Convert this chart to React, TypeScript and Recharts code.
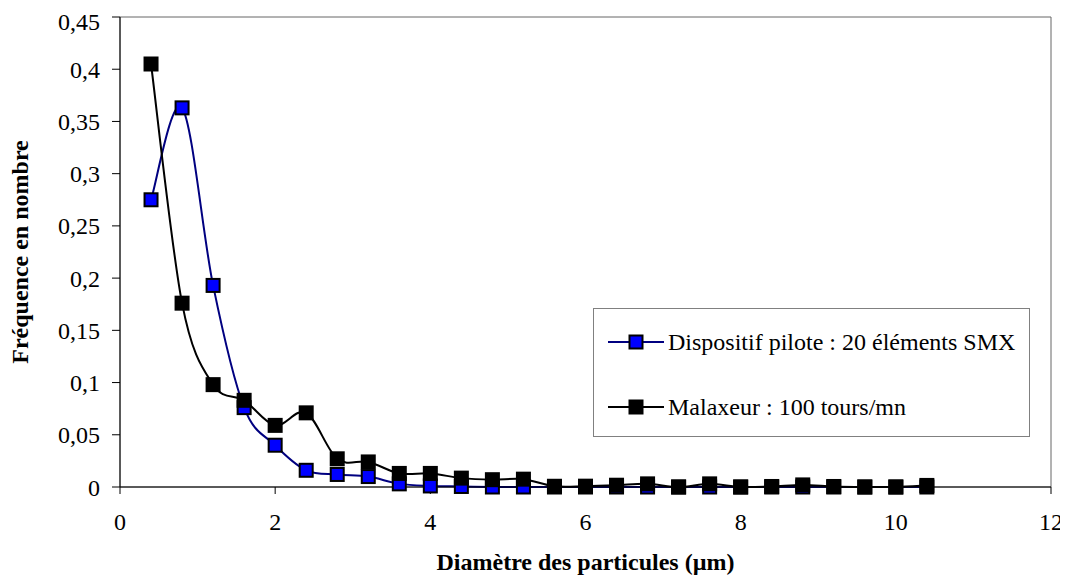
import React from 'react';
import { LineChart, Line, XAxis, YAxis, ReferenceArea, Legend, Label } from 'recharts';

const diameters = [0.4, 0.8, 1.2, 1.6, 2.0, 2.4, 2.8, 3.2, 3.6, 4.0, 4.4, 4.8, 5.2, 5.6, 6.0, 6.4, 6.8, 7.2, 7.6, 8.0, 8.4, 8.8, 9.2, 9.6, 10.0, 10.4];
const pilotSMX = [0.275, 0.363, 0.193, 0.076, 0.040, 0.016, 0.012, 0.010, 0.003, 0.001, 0.0005, 0, 0, 0, 0, 0, 0, 0, 0, 0, 0, 0, 0, 0, 0, 0];
const malaxeur = [0.405, 0.176, 0.098, 0.083, 0.059, 0.071, 0.027, 0.024, 0.013, 0.013, 0.0085, 0.007, 0.0075, 0.0007, 0.0008, 0.0017, 0.003, 0, 0.003, 0, 0.0005, 0.002, 0.0005, 0, 0, 0.0015];
const xTicks = [0, 2, 4, 6, 8, 10, 12];
const yTicks = [0, 0.05, 0.1, 0.15, 0.2, 0.25, 0.3, 0.35, 0.4, 0.45];
const seriesNames = ['Dispositif pilote : 20 éléments SMX', 'Malaxeur : 100 tours/mn'];
const xTitle = 'Diamètre des particules (µm)';
const yTitle = 'Fréquence en nombre';

const FONT = '"Liberation Serif", "Times New Roman", serif';

const data = diameters.map((d, i) => ({ d, smx: pilotSMX[i], mal: malaxeur[i] }));

// Excel-like smoothed line (Catmull-Rom as cubic Bezier)
const catmullRom: any = (context: any) => {
  let pts: [number, number][] = [];
  return {
    areaStart() {},
    areaEnd() {},
    lineStart() {
      pts = [];
    },
    point(x: number, y: number) {
      pts.push([+x, +y]);
    },
    lineEnd() {
      if (!pts.length) return;
      context.moveTo(pts[0][0], pts[0][1]);
      for (let i = 0; i < pts.length - 1; i++) {
        const p0 = pts[i - 1] || pts[i];
        const p1 = pts[i];
        const p2 = pts[i + 1];
        const p3 = pts[i + 2] || p2;
        const c1x = p1[0] + (p2[0] - p0[0]) / 6;
        const c1y = p1[1] + (p2[1] - p0[1]) / 6;
        const c2x = p2[0] - (p3[0] - p1[0]) / 6;
        const c2y = p2[1] - (p3[1] - p1[1]) / 6;
        context.bezierCurveTo(c1x, c1y, c2x, c2y, p2[0], p2[1]);
      }
    },
  };
};

const squareDot = (fill: string) => (p: any) => {
  const { cx, cy, index } = p;
  if (cx == null || cy == null) return <g key={`n-${index}`} />;
  return (
    <rect
      key={`s-${fill}-${index}`}
      x={cx - 6.5}
      y={cy - 6.5}
      width={13}
      height={13}
      fill={fill}
      stroke="#000"
      strokeWidth={2}
    />
  );
};

const legendStyles = [
  { line: '#000080', fill: '#0000FF' },
  { line: '#000000', fill: '#000000' },
];

const renderLegend = () => (
  <div
    style={{
      width: 437,
      height: 129,
      border: '1px solid #808080',
      boxSizing: 'border-box',
      background: '#fff',
      fontFamily: FONT,
      fontSize: 24,
      color: '#000',
      position: 'relative',
    }}
  >
    {seriesNames.map((name, i) => (
      <div
        key={name}
        style={{
          position: 'absolute',
          left: 14,
          top: (i === 0 ? 33 : 98) - 15,
          height: 30,
          display: 'flex',
          alignItems: 'center',
          whiteSpace: 'nowrap',
        }}
      >
        <svg width={56} height={20} style={{ display: 'block' }}>
          <line x1={0} x2={56} y1={10} y2={10} stroke={legendStyles[i].line} strokeWidth={2} />
          <rect x={21.5} y={3.5} width={13} height={13} fill={legendStyles[i].fill} stroke="#000" strokeWidth={2} />
        </svg>
        <span style={{ marginLeft: 4, lineHeight: '30px' }}>{name}</span>
      </div>
    ))}
  </div>
);

export default function App() {
  const tickStyle = { fill: '#000', fontSize: 24, fontFamily: FONT };
  return (
    <LineChart
      width={1060}
      height={567}
      data={data}
      margin={{ top: 9, right: 17, left: 0, bottom: 0 }}
      style={{ fontFamily: FONT }}
    >
      <ReferenceArea x1={0} x2={12} y1={0} y2={0.45} fill="none" stroke="#666" strokeWidth={1} />
      <XAxis
        dataKey="d"
        type="number"
        domain={[0, 12]}
        ticks={xTicks}
        tick={tickStyle}
        tickSize={7}
        tickMargin={19}
        height={88}
        axisLine={{ stroke: '#000', strokeWidth: 1 }}
        tickLine={{ stroke: '#000' }}
        label={{
          value: xTitle,
          position: 'insideBottom',
          offset: 5,
          style: { fontWeight: 'bold', fontSize: 24, fill: '#000', fontFamily: FONT },
        }}
      />
      <YAxis
        type="number"
        domain={[0, 0.45]}
        ticks={yTicks}
        tick={tickStyle}
        tickSize={8}
        tickMargin={12}
        width={112}
        axisLine={{ stroke: '#000', strokeWidth: 1 }}
        tickLine={{ stroke: '#000' }}
        tickFormatter={(v: number) => String(v).replace('.', ',')}
      >
        <Label
          content={(p: any) => {
            const vb = p && p.viewBox;
            const cy = vb && vb.height ? vb.y + vb.height / 2 : 244;
            return (
              <text
                transform={`translate(20, ${cy}) rotate(-90)`}
                textAnchor="middle"
                style={{ fontWeight: 'bold', fontSize: 24, fill: '#000', fontFamily: FONT }}
              >
                {yTitle}
              </text>
            );
          }}
        />
      </YAxis>
      <Line
        dataKey="smx"
        name={seriesNames[0]}
        type={catmullRom}
        stroke="#000080"
        strokeWidth={2}
        dot={squareDot('#0000FF')}
        activeDot={false}
        isAnimationActive={false}
      />
      <Line
        dataKey="mal"
        name={seriesNames[1]}
        type={catmullRom}
        stroke="#000000"
        strokeWidth={2}
        dot={squareDot('#000000')}
        activeDot={false}
        isAnimationActive={false}
      />
      <Legend
        layout="vertical"
        align="center"
        verticalAlign="middle"
        wrapperStyle={{ position: 'absolute', left: 585, top: 300, width: 437, height: 129 }}
        content={renderLegend}
      />
    </LineChart>
  );
}
